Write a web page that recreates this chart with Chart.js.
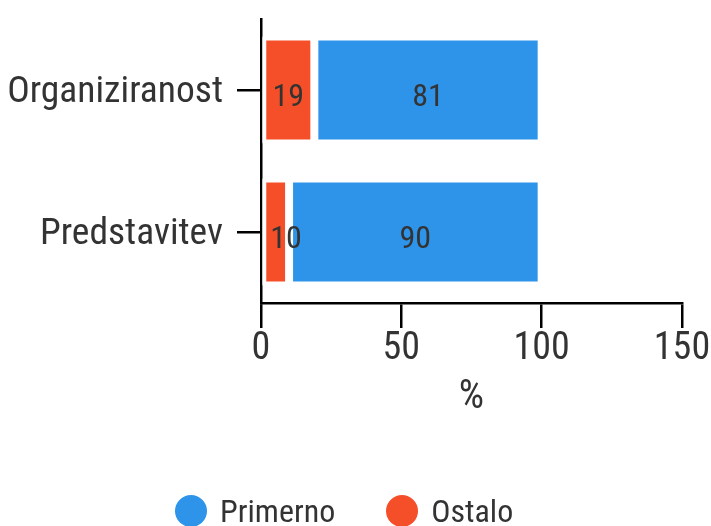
<!DOCTYPE html>
<html>
<head>
<meta charset="utf-8">
<script src="https://cdn.jsdelivr.net/npm/chart.js@4"></script>
<style>
  html, body { margin: 0; padding: 0; background: #fff; }
  #wrap { position: relative; width: 711px; height: 526px; }
  #legend { position: absolute; left: 175px; top: 492px; display: flex; align-items: center;
            font-family: 'Roboto Condensed', 'Liberation Sans Narrow', 'Arial Narrow', Roboto, sans-serif;
            font-size: 32px; color: #333; }
  #legend .item { display: flex; align-items: center; margin-right: 51px; }
  #legend .dot { width: 32px; height: 32px; border-radius: 50%; margin-right: 13px; }
</style>
</head>
<body>
<div id="wrap">
  <canvas id="chart" width="711" height="526"></canvas>
  <div id="legend"></div>
</div>
<script>
const FONT = "'Roboto Condensed', 'Liberation Sans Narrow', 'Arial Narrow', Roboto, sans-serif"

const categories = ['Organiziranost', 'Predstavitev']
const ostalo = [19, 10]
const primerno = [81, 90]
const xTicks = [0, 50, 100, 150]

// draws the value in the middle of each segment
const valueLabels = {
  id: 'valueLabels',
  afterDatasetsDraw (chart) {
    const ctx = chart.ctx
    ctx.save()
    ctx.font = '32px ' + FONT
    ctx.fillStyle = '#333'
    ctx.textAlign = 'center'
    ctx.textBaseline = 'middle'
    chart.data.datasets.forEach((ds, di) => {
      chart.getDatasetMeta(di).data.forEach((bar, i) => {
        const text = String(ds.data[i])
        const w = ctx.measureText(text).width
        const left = Math.min(bar.x, bar.base)
        let x = (bar.x + bar.base) / 2
        if (x < left + w / 2 + 8) x = left + w / 2 + 8
        ctx.fillText(text, x, bar.y + 8)
      })
    })
    ctx.restore()
  }
}

const chart = new Chart(document.getElementById('chart'), {
  type: 'bar',
  data: {
    labels: categories,
    datasets: [
      { label: 'Ostalo', data: ostalo, backgroundColor: '#F54F29', borderColor: '#fff', borderWidth: 4, borderSkipped: false },
      { label: 'Primerno', data: primerno, backgroundColor: '#2E94EA', borderColor: '#fff', borderWidth: 4, borderSkipped: false }
    ]
  },
  options: {
    indexAxis: 'y',
    responsive: false,
    animation: false,
    barPercentage: 0.8,
    categoryPercentage: 0.94,
    layout: { padding: { top: 19, left: 6, right: 0, bottom: 104 } },
    plugins: {
      legend: { display: false },
      tooltip: { enabled: false }
    },
    scales: {
      x: {
        stacked: true,
        min: xTicks[0],
        max: xTicks[xTicks.length - 1],
        afterBuildTicks: axis => { axis.ticks = xTicks.map(v => ({ value: v })) },
        afterFit: axis => {
          axis.paddingLeft = 0
          axis.paddingRight = 29
        },
        border: { color: '#000', width: 2.5 },
        grid: { drawOnChartArea: false, drawTicks: true, tickLength: 25, color: '#000', lineWidth: 2.5 },
        ticks: { color: '#333', font: { family: FONT, size: 38, lineHeight: 1 }, padding: 2 },
        title: { display: true, text: '%', color: '#333', font: { family: FONT, size: 40 }, padding: { top: 4, bottom: 0 } }
      },
      y: {
        stacked: true,
        afterFit: axis => {
          axis.width = 255
          axis.paddingTop = 0
          axis.paddingBottom = 0
        },
        border: { color: '#000', width: 2.5 },
        grid: { offset: false, drawOnChartArea: false, drawTicks: true, tickLength: 24, color: '#000', lineWidth: 2.5 },
        ticks: { color: '#333', font: { family: FONT, size: 37.5 }, padding: 14, labelOffset: 3 }
      }
    }
  },
  plugins: [valueLabels]
})

// legend in html, Primerno first
const legendItems = chart.data.datasets.slice().reverse()
document.getElementById('legend').innerHTML = legendItems.map(ds =>
  '<span class="item"><span class="dot" style="background:' + ds.backgroundColor + '"></span>' + ds.label + '</span>'
).join('')
</script>
</body>
</html>
